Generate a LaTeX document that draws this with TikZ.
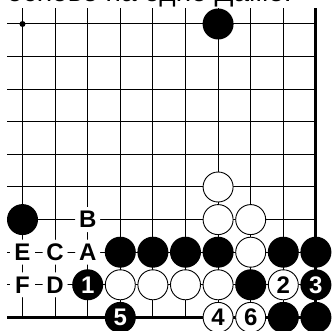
\documentclass[tikz,border=0pt]{standalone}
\usepackage{fontspec}
\setmainfont{Liberation Sans}

\tikzset{
  gridline/.style={line width=1pt, black},
  edgeline/.style={line width=3pt, black},
  stonefont/.style={font=\fontsize{24}{24}\selectfont\bfseries},
  blackstone/.style={circle, fill=black, minimum size=31pt, inner sep=0pt, text=white, stonefont},
  whitestone/.style={circle, draw=black, line width=0.9pt, fill=white, minimum size=30pt, inner sep=0pt, text=black, stonefont},
  pointlabel/.style={circle, fill=white, minimum size=25pt, inner sep=0pt, stonefont},
}

\begin{document}
\begin{tikzpicture}[x=32.6pt, y=-32.6pt]

  % --- Parameter ---
  \def\lft{-0.475}   % Linien ragen links ueber die erste Spalte
  \def\tp{-0.49}     % Linien ragen oben ueber die erste Reihe

  \useasboundingbox (-0.690,-0.736) rectangle (9.494,9.417);

  % --- abgeschnittene Textzeile ---
  \node[anchor=base west, inner sep=0pt, font=\fontsize{28}{28}\selectfont] (caption) at (\lft,-0.69) {основе на одно Даме.};

  % --- Brett ---
  \foreach \r in {0,...,8}
    \draw[gridline] (\lft,\r) -- (9,\r);
  \foreach \c in {0,...,8}
    \draw[gridline] (\c,\tp) -- (\c,9);
  \draw[edgeline] (9,\tp) -- (9,9) -- (\lft,9);
  \fill (0,0) circle (3pt);

  % --- Schwarze Steine ---
  \foreach \c/\r in {6/0, 0/6, 3/7, 4/7, 5/7, 6/7, 8/7, 9/7, 7/8, 8/9, 9/9}
    \node[blackstone] (b\c\r) at (\c,\r) {};

  % --- Weisse Steine ---
  \foreach \c/\r in {6/5, 6/6, 7/6, 7/7, 3/8, 4/8, 5/8, 6/8}
    \node[whitestone] (w\c\r) at (\c,\r) {};

  % --- Zugfolge ---
  \node[blackstone] (m1) at (2,8) {1};
  \node[whitestone] (m2) at (8,8) {2};
  \node[blackstone] (m3) at (9,8) {3};
  \node[whitestone] (m4) at (6,9) {4};
  \node[blackstone] (m5) at (3,9) {5};
  \node[whitestone] (m6) at (7,9) {6};

  % --- Punkte mit Buchstaben ---
  \node[pointlabel] (B) at (2,6) {B};
  \node[pointlabel] (E) at (0,7) {E};
  \node[pointlabel] (C) at (1,7) {C};
  \node[pointlabel] (A) at (2,7) {A};
  \node[pointlabel] (F) at (0,8) {F};
  \node[pointlabel] (D) at (1,8) {D};

\end{tikzpicture}
\end{document}
